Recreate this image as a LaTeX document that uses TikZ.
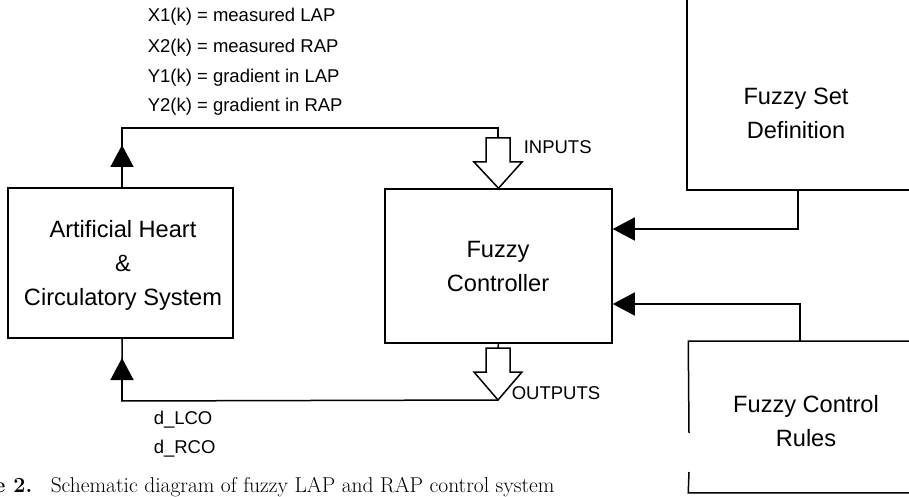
\documentclass[tikz,border=0pt]{standalone}
\usepackage{fontspec}
\newfontfamily\helv{Liberation Sans}
\usetikzlibrary{arrows.meta,calc}
\begin{document}
\begin{tikzpicture}[x=1bp,y=-1bp,
  line width=1.5bp,
  boxtext/.style={font=\helv\fontsize{23.6bp}{34bp}\selectfont, align=center, inner sep=0pt},
  lbl/.style={font=\helv\fontsize{18.5bp}{22bp}\selectfont, inner sep=0pt},
  blk/.style={draw, rectangle, inner sep=0pt},
  tri/.style={-{Triangle[length=22bp,width=23bp]}},
  hollow/.style={draw, line width=1.5bp, fill=white, line join=miter},
  captxt/.style={inner sep=0pt, font=\fontsize{21.5bp}{24bp}\selectfont}
]
\useasboundingbox (0,0) rectangle (909,497);
\clip (0,0) rectangle (909,497);

% boxes
\node[blk, minimum width=225bp, minimum height=150bp] (heart) at (120.5,263) {};
\node[boxtext] (heartt) at (123,265) {Artificial Heart\\\&\\Circulatory System};

\node[blk, minimum width=227bp, minimum height=154bp] (ctrl) at (498.5,266) {};
\node[boxtext] (ctrlt) at (498,266) {Fuzzy\\Controller};

\node[blk, minimum width=273bp, minimum height=250bp] (set) at (823.5,65) {};
\node[boxtext] (sett) at (796,113) {Fuzzy Set\\Definition};

\node[minimum width=271bp, minimum height=150bp, inner sep=0pt] (rules) at (824.5,417) {};
\draw (689,433) -- (rules.north west) -- (rules.north east) -- (rules.south east) -- (rules.south west) -- (689,472);
\node[boxtext] (rulest) at (806,421) {Fuzzy Control\\Rules};

% input block arrow
\coordinate (inTop) at (498,138);
\draw[hollow] (486,138) -- (510,138) -- (510,162) -- (522,162) -- (ctrl.north) -- (474,162) -- (486,162) -- cycle;
% output block arrow
\coordinate (outTip) at (498,400);
\draw (ctrl.south) -- (498,348);
\draw[hollow] (486,348) -- (510,348) -- (510,372) -- (522,372) -- (outTip) -- (474,372) -- (486,372) -- cycle;

% feedback loop top
\draw (heart.north -| 122,0) -- (122,128) -| (inTop);
\draw[tri] (122,188) -- (122,145);
% feedback loop bottom
\draw (outTip) -- (122,401) -- (122,338);
\draw[tri] (122,401) -- (122,358);

% right connectors
\coordinate (sa) at (798,229);
\draw[tri] (set.south -| sa) -- (sa) -- (sa -| ctrl.east);
\coordinate (ra) at (800,304);
\draw[tri] (rules.north -| ra) -- (ra) -- (ra -| ctrl.east);

% labels
\node[lbl, anchor=west] (l1) at (147,17) {X1(k) = measured LAP};
\node[lbl, anchor=west] (l2) at (147,48) {X2(k) = measured RAP};
\node[lbl, anchor=west] (l3) at (147,78) {Y1(k) = gradient in LAP};
\node[lbl, anchor=west] (l4) at (147,107) {Y2(k) = gradient in RAP};
\node[lbl, anchor=west] (inl) at (523,147) {INPUTS};
\node[lbl, anchor=west] (outl) at (511,393) {OUTPUTS};
\node[lbl, anchor=west] (d1) at (153,420) {d\_LCO};
\node[lbl, anchor=west] (d2) at (153,449) {d\_RCO};

% caption (cut off at the picture's edge, as in the reference)
\node[captxt, anchor=base west] (cap) at (50,492) {Schematic diagram of fuzzy LAP and RAP control system};
\node[captxt, anchor=base east, font=\fontsize{21.5bp}{24bp}\selectfont\bfseries] (capn) at (33,492) {Figure 2.};
\end{tikzpicture}
\end{document}
